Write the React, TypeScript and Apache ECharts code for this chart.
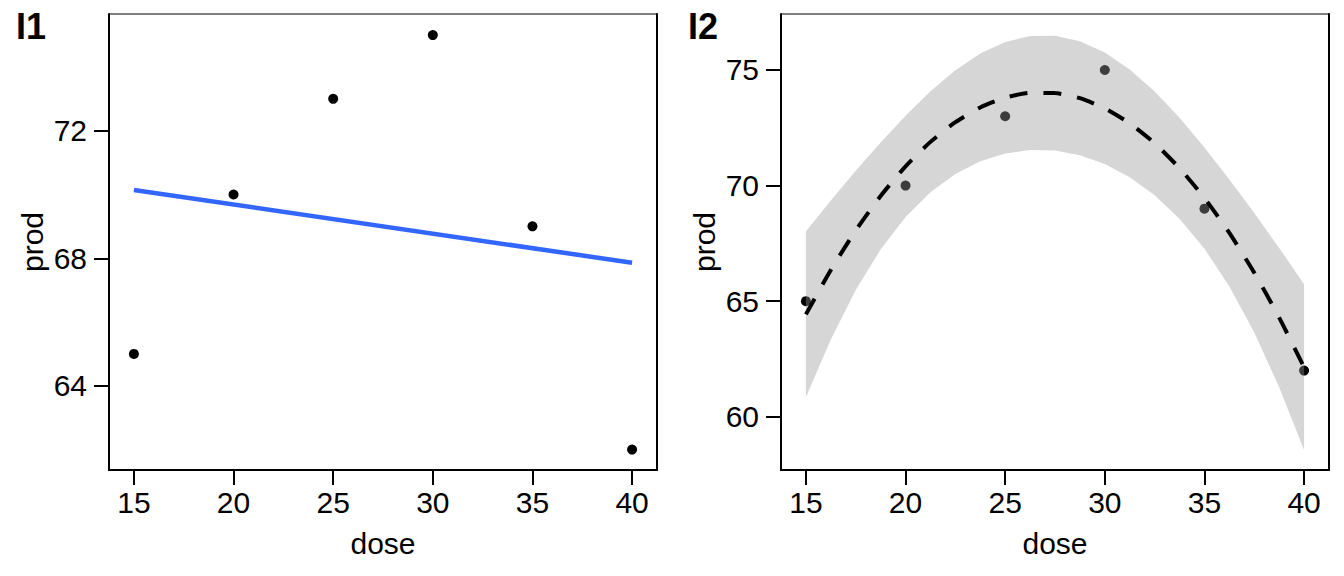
import { useEffect, useRef } from "react";
import * as echarts from "echarts";

const FONT = '"Liberation Sans", Arial, sans-serif';

// observed data
const doseX = [15, 20, 25, 30, 35, 40];
const prodY = [65, 70, 73, 75, 69, 62];

// linear fit (panel I1)
const linX = [15, 40];
const linY = [70.14, 67.86];

// quadratic fit with 95% band (panel I2)
const quadX = [15, 16.25, 17.5, 18.75, 20, 21.25, 22.5, 23.75, 25, 26.25, 27.5, 28.75, 30, 31.25, 32.5, 33.75, 35, 36.25, 37.5, 38.75, 40];
const quadFit = [64.43, 66.35, 68.06, 69.55, 70.83, 71.89, 72.74, 73.38, 73.8, 74.01, 74.0, 73.78, 73.34, 72.69, 71.83, 70.75, 69.46, 67.95, 66.23, 64.29, 62.14];
const quadLow = [60.85, 63.34, 65.48, 67.24, 68.64, 69.71, 70.5, 71.05, 71.39, 71.54, 71.52, 71.31, 70.93, 70.36, 69.58, 68.57, 67.27, 65.64, 63.65, 61.28, 58.56];
const quadHigh = [68.01, 69.36, 70.64, 71.86, 73.02, 74.08, 74.99, 75.71, 76.21, 76.47, 76.48, 76.24, 75.75, 75.02, 74.07, 72.93, 71.65, 70.26, 68.81, 67.3, 65.73];

// tick labels
const xTicks = [15, 20, 25, 30, 35, 40];
const leftYTicks = [64, 68, 72];
const rightYTicks = [60, 65, 70, 75];

const panelTags = ["I1", "I2"];

const xAxisDef = (gridIndex: number) => ({
  type: "value",
  gridIndex,
  min: 13.75,
  max: 41.25,
  position: "bottom",
  axisLine: { show: true, onZero: false, lineStyle: { color: "#000", width: 2 } },
  axisTick: { show: true, inside: false, length: 15, lineStyle: { color: "#000", width: 2 }, customValues: xTicks },
  axisLabel: { customValues: xTicks, color: "#000", fontSize: 30, fontFamily: FONT, margin: 17 },
  splitLine: { show: false },
  name: "dose",
  nameLocation: "middle",
  nameGap: 58,
  nameTextStyle: { color: "#000", fontSize: 30, fontFamily: FONT },
});

const yAxisDef = (gridIndex: number, min: number, max: number, ticks: number[]) => ({
  type: "value",
  gridIndex,
  min,
  max,
  position: "left",
  axisLine: { show: true, onZero: false, lineStyle: { color: "#000", width: 2 } },
  axisTick: { show: true, inside: false, length: 15, lineStyle: { color: "#000", width: 2 }, customValues: ticks },
  axisLabel: { customValues: ticks, color: "#000", fontSize: 30, fontFamily: FONT, margin: 22 },
  splitLine: { show: false },
  name: "prod",
  nameLocation: "middle",
  nameGap: 62,
  nameTextStyle: { color: "#000", fontSize: 30, fontFamily: FONT },
});

const rightBorderAxis = (gridIndex: number, min: number, max: number) => ({
  type: "value",
  gridIndex,
  min,
  max,
  position: "right",
  axisLine: { show: true, onZero: false, lineStyle: { color: "#000", width: 2 } },
  axisTick: { show: false },
  axisLabel: { show: false },
  splitLine: { show: false },
});

export default function App() {
  const ref = useRef<HTMLDivElement>(null);
  useEffect(() => {
    document.body.style.margin = "0";
    const chart = echarts.init(ref.current!, null, { renderer: "svg" });
    const option: any = {
      animation: false,
      backgroundColor: "#fff",
      grid: [
        { left: 109, top: 14, width: 548, height: 456, show: true, borderColor: "#000", borderWidth: 1, backgroundColor: "transparent" },
        { left: 781, top: 14, width: 548, height: 456, show: true, borderColor: "#000", borderWidth: 1, backgroundColor: "transparent" },
      ],
      xAxis: [xAxisDef(0), xAxisDef(1)],
      yAxis: [
        yAxisDef(0, 61.36, 75.66, leftYTicks),
        rightBorderAxis(0, 61.36, 75.66),
        yAxisDef(1, 57.7, 77.42, rightYTicks),
        rightBorderAxis(1, 57.7, 77.42),
      ],
      graphic: [
        { type: "text", left: 16, top: 8, style: { text: panelTags[0], font: `bold 36px ${FONT}`, fill: "#000" } },
        { type: "text", left: 688, top: 8, style: { text: panelTags[1], font: `bold 36px ${FONT}`, fill: "#000" } },
      ],
      series: [
        {
          type: "scatter",
          xAxisIndex: 0,
          yAxisIndex: 0,
          data: doseX.map((x, i) => [x, prodY[i]]),
          symbolSize: 10,
          itemStyle: { color: "#000", opacity: 1 },
          z: 2,
        },
        {
          type: "line",
          xAxisIndex: 0,
          yAxisIndex: 0,
          data: linX.map((x, i) => [x, linY[i]]),
          symbol: "none",
          lineStyle: { color: "#3366FF", width: 4.5 },
          z: 3,
        },
        {
          type: "scatter",
          xAxisIndex: 1,
          yAxisIndex: 2,
          data: doseX.map((x, i) => [x, prodY[i]]),
          symbolSize: 10,
          itemStyle: { color: "#000", opacity: 1 },
          z: 2,
        },
        {
          type: "custom",
          xAxisIndex: 1,
          yAxisIndex: 2,
          silent: true,
          data: [[27.5, 70]],
          renderItem: (_params: any, api: any) => {
            const upper = quadX.map((x, i) => api.coord([x, quadHigh[i]]));
            const lower = quadX.map((x, i) => api.coord([x, quadLow[i]])).reverse();
            return {
              type: "polygon",
              shape: { points: [...upper, ...lower] },
              style: { fill: "rgba(153,153,153,0.4)", stroke: "none" },
            };
          },
          z: 3,
        },
        {
          type: "line",
          xAxisIndex: 1,
          yAxisIndex: 2,
          data: quadX.map((x, i) => [x, quadFit[i]]),
          symbol: "none",
          smooth: 0.2,
          lineStyle: { color: "#000", width: 4, type: [18, 16], cap: "butt" },
          z: 4,
        },
      ],
    };
    chart.setOption(option);
    return () => chart.dispose();
  }, []);
  return <div ref={ref} style={{ position: "absolute", left: 0, top: 0, width: 1344, height: 576 }} />;
}
